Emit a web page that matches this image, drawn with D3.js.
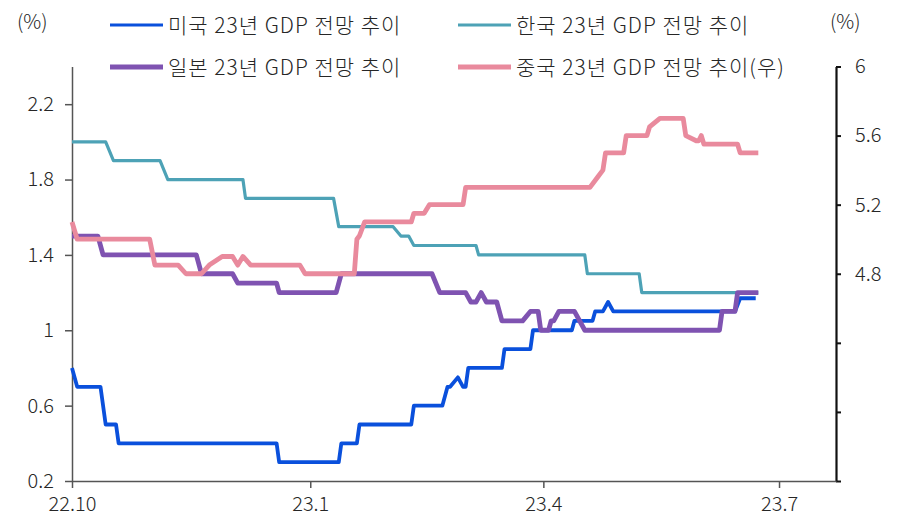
<!DOCTYPE html>
<html>
<head>
<meta charset="utf-8">
<script src="https://cdn.jsdelivr.net/npm/d3@7"></script>
<style>
  html, body { margin: 0; padding: 0; background: #fff; }
  svg text { font-family: "Noto Sans CJK KR", "Noto Sans", sans-serif; fill: #262626; font-weight: 300; }
</style>
</head>
<body>
<svg id="chart" width="907" height="520"></svg>
<script>
// Series labels (legend order: row by row, two columns)
const seriesNames = [
  "미국 23년 GDP 전망 추이",
  "한국 23년 GDP 전망 추이",
  "일본 23년 GDP 전망 추이",
  "중국 23년 GDP 전망 추이(우)"
];
const seriesColors = ["#0a50dc", "#4da2b6", "#7f53b1", "#e98a9d"];

// 2023 GDP growth forecast revisions, [date, %]
const usForecast = [
  ["2022-10-01", 0.8], ["2022-10-03", 0.7], ["2022-10-12", 0.7], ["2022-10-14", 0.5],
  ["2022-10-18", 0.5], ["2022-10-19", 0.4], ["2022-12-19", 0.4], ["2022-12-20", 0.3],
  ["2023-01-12", 0.3], ["2023-01-13", 0.4], ["2023-01-19", 0.4], ["2023-01-20", 0.5],
  ["2023-02-09", 0.5], ["2023-02-10", 0.6], ["2023-02-21", 0.6], ["2023-02-23", 0.7],
  ["2023-02-24", 0.7], ["2023-02-27", 0.75], ["2023-03-01", 0.7], ["2023-03-02", 0.7],
  ["2023-03-03", 0.8], ["2023-03-16", 0.8], ["2023-03-17", 0.9], ["2023-03-27", 0.9],
  ["2023-03-28", 1.0], ["2023-04-12", 1.0], ["2023-04-13", 1.05], ["2023-04-20", 1.05],
  ["2023-04-21", 1.1], ["2023-04-24", 1.1], ["2023-04-26", 1.15], ["2023-04-28", 1.1],
  ["2023-06-14", 1.1], ["2023-06-16", 1.17], ["2023-06-22", 1.17]
];

const krForecast = [
  ["2022-10-01", 2.0], ["2022-10-14", 2.0], ["2022-10-17", 1.9], ["2022-11-04", 1.9],
  ["2022-11-07", 1.8], ["2022-12-06", 1.8], ["2022-12-07", 1.7], ["2023-01-10", 1.7],
  ["2023-01-12", 1.55], ["2023-02-02", 1.55], ["2023-02-05", 1.5], ["2023-02-08", 1.5],
  ["2023-02-10", 1.45], ["2023-03-06", 1.45], ["2023-03-07", 1.4], ["2023-04-17", 1.4],
  ["2023-04-18", 1.3], ["2023-05-08", 1.3], ["2023-05-09", 1.2], ["2023-06-23", 1.2]
];

const jpForecast = [
  ["2022-10-01", 1.5], ["2022-10-11", 1.5], ["2022-10-13", 1.4], ["2022-11-18", 1.4],
  ["2022-11-20", 1.3], ["2022-12-02", 1.3], ["2022-12-04", 1.25], ["2022-12-19", 1.25],
  ["2022-12-20", 1.2], ["2023-01-11", 1.2], ["2023-01-13", 1.3], ["2023-02-17", 1.3],
  ["2023-02-20", 1.2], ["2023-03-02", 1.2], ["2023-03-04", 1.15], ["2023-03-06", 1.15],
  ["2023-03-08", 1.2], ["2023-03-10", 1.15], ["2023-03-14", 1.15], ["2023-03-16", 1.05],
  ["2023-03-24", 1.05], ["2023-03-27", 1.1], ["2023-03-30", 1.1], ["2023-03-31", 1.0],
  ["2023-04-03", 1.0], ["2023-04-04", 1.05], ["2023-04-05", 1.05], ["2023-04-07", 1.1],
  ["2023-04-13", 1.1], ["2023-04-17", 1.0], ["2023-06-08", 1.0], ["2023-06-09", 1.1],
  ["2023-06-14", 1.1], ["2023-06-15", 1.2], ["2023-06-23", 1.2]
];

// China, plotted on the right axis
const cnForecast = [
  ["2022-10-01", 5.1], ["2022-10-03", 5.0], ["2022-10-31", 5.0], ["2022-11-02", 4.85],
  ["2022-11-11", 4.85], ["2022-11-14", 4.8], ["2022-11-20", 4.8], ["2022-11-23", 4.85],
  ["2022-11-28", 4.9], ["2022-12-02", 4.9], ["2022-12-04", 4.85], ["2022-12-06", 4.9],
  ["2022-12-09", 4.85], ["2022-12-28", 4.85], ["2022-12-30", 4.8], ["2023-01-18", 4.8],
  ["2023-01-19", 5.0], ["2023-01-20", 5.02], ["2023-01-22", 5.1], ["2023-02-09", 5.1],
  ["2023-02-10", 5.15], ["2023-02-14", 5.15], ["2023-02-16", 5.2], ["2023-03-01", 5.2],
  ["2023-03-02", 5.3], ["2023-04-19", 5.3], ["2023-04-22", 5.36], ["2023-04-24", 5.4],
  ["2023-04-25", 5.5], ["2023-05-02", 5.5], ["2023-05-03", 5.6], ["2023-05-11", 5.6],
  ["2023-05-12", 5.65], ["2023-05-16", 5.7], ["2023-05-25", 5.7], ["2023-05-26", 5.6],
  ["2023-05-30", 5.57], ["2023-05-31", 5.57], ["2023-06-01", 5.6], ["2023-06-02", 5.55],
  ["2023-06-15", 5.55], ["2023-06-16", 5.5], ["2023-06-23", 5.5]
];

// Axis ticks
const leftTicks = [0.2, 0.6, 1, 1.4, 1.8, 2.2];
const leftTickLabels = ["0.2", "0.6", "1", "1.4", "1.8", "2.2"];
const rightTicks = [3.6, 4.0, 4.4, 4.8, 5.2, 5.6, 6];
const rightTickLabels = ["", "", "", "4.8", "5.2", "5.6", "6"];
const xTickDates = ["2022-10-01", "2023-01-01", "2023-04-01", "2023-07-01"];
const xTickLabels = ["22.10", "23.1", "23.4", "23.7"];

const parse = d3.timeParse("%Y-%m-%d");
const svg = d3.select("#chart");
const FS = 20;

const plotLeft = 72, plotRight = 836, plotTop = 66.5, plotBottom = 481;

const x = d3.scaleTime()
  .domain([parse("2022-10-01"), parse("2023-07-23")])
  .range([plotLeft, plotRight]);
const yL = d3.scaleLinear().domain([0.2, 2.4]).range([plotBottom, plotTop]);
const yR = d3.scaleLinear().domain([3.6, 6]).range([plotBottom, plotTop]);

// Left axis
const gL = svg.append("g").attr("transform", `translate(${plotLeft},0)`)
  .call(d3.axisLeft(yL).tickValues(leftTicks)
    .tickFormat((d, i) => leftTickLabels[i])
    .tickSize(7).tickSizeOuter(0).tickPadding(11));
gL.select(".domain").attr("stroke", "#555").attr("stroke-width", 1.5);
gL.selectAll(".tick line").attr("stroke", "#555").attr("stroke-width", 1.5);
gL.selectAll(".tick text").attr("font-size", FS).attr("fill", "#262626");

// Right axis
const gR = svg.append("g").attr("transform", `translate(${plotRight},0)`)
  .call(d3.axisRight(yR).tickValues(rightTicks)
    .tickFormat((d, i) => rightTickLabels[i])
    .tickSize(5).tickSizeOuter(0).tickPadding(14));
gR.select(".domain").attr("stroke", "#111").attr("stroke-width", 2.2);
gR.selectAll(".tick line").attr("stroke", "#111").attr("stroke-width", 2);
gR.selectAll(".tick text").attr("font-size", FS).attr("fill", "#262626");

// Bottom axis
const gX = svg.append("g").attr("transform", `translate(0,${plotBottom})`)
  .call(d3.axisBottom(x).tickValues(xTickDates.map(parse))
    .tickFormat((d, i) => xTickLabels[i])
    .tickSize(7).tickSizeOuter(0).tickPadding(9));
gX.select(".domain").attr("stroke", "#555").attr("stroke-width", 1.5);
gX.selectAll(".tick line").attr("stroke", "#555").attr("stroke-width", 1.5);
gX.selectAll(".tick text").attr("font-size", FS).attr("fill", "#262626");

svg.selectAll(".tick text")
  .attr("font-family", '"Noto Sans CJK KR", "Noto Sans", sans-serif')
  .attr("font-weight", 300);

// Unit labels
svg.append("text").attr("x", 17).attr("y", 29).attr("font-size", FS).text("(%)");
svg.append("text").attr("x", 830).attr("y", 29).attr("font-size", FS).text("(%)");

// Lines
const lineL = d3.line().x(d => x(parse(d[0]))).y(d => yL(d[1]));
const lineR = d3.line().x(d => x(parse(d[0]))).y(d => yR(d[1]));

const plotted = [
  { data: usForecast, gen: lineL, color: seriesColors[0], w: 3.8 },
  { data: krForecast, gen: lineL, color: seriesColors[1], w: 3.2 },
  { data: jpForecast, gen: lineL, color: seriesColors[2], w: 4.8 },
  { data: cnForecast, gen: lineR, color: seriesColors[3], w: 4.8 }
];
// Korea first so that the other series overlap it
[1, 0, 2, 3].forEach(i => {
  const s = plotted[i];
  svg.append("path")
    .attr("d", s.gen(s.data))
    .attr("fill", "none")
    .attr("stroke", s.color)
    .attr("stroke-width", s.w)
    .attr("stroke-linejoin", "round");
});

// Legend
const legendPos = [
  { x: 110, y: 25 }, { x: 458, y: 25 },
  { x: 110, y: 67 }, { x: 458, y: 67 }
];
const legend = svg.append("g");
seriesNames.forEach((name, i) => {
  const p = legendPos[i];
  legend.append("line")
    .attr("x1", p.x).attr("x2", p.x + 53)
    .attr("y1", p.y).attr("y2", p.y)
    .attr("stroke", seriesColors[i])
    .attr("stroke-width", i >= 2 ? 5 : 3.2);
  legend.append("text")
    .attr("x", p.x + 58).attr("y", p.y)
    .attr("dy", "0.36em")
    .attr("font-size", 21)
    .attr("letter-spacing", 1)
    .text(name);
});
</script>
</body>
</html>
